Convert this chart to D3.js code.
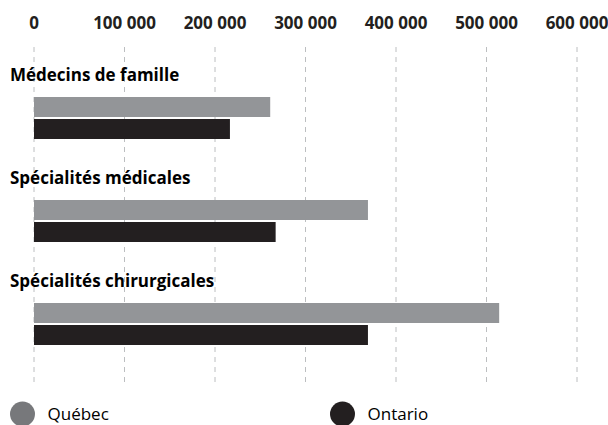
<!DOCTYPE html>
<html>
<head>
<meta charset="utf-8">
<script src="https://cdn.jsdelivr.net/npm/d3@7"></script>
<style>
  body { margin: 0; background: #fff; }
  svg { display: block; font-family: "Open Sans", "Noto Sans", sans-serif; }
  .tick-label { font-weight: 700; font-size: 17px; fill: #231f20; }
  .cat-label { font-weight: 700; font-size: 17px; fill: #000; }
  .legend-label { font-size: 17px; fill: #000; }
</style>
</head>
<body>
<div id="chart"></div>
<script>
// Médecins : rémunération moyenne, Québec vs Ontario
const categories = ["Médecins de famille", "Spécialités médicales", "Spécialités chirurgicales"];
const quebec = [261000, 369000, 514000];
const ontario = [216500, 267000, 369000];
const tickValues = [0, 100000, 200000, 300000, 400000, 500000, 600000];
const seriesNames = ["Québec", "Ontario"];
const colors = { "Québec": "#939598", "Ontario": "#231f20" };
const legendColors = { "Québec": "#77787b", "Ontario": "#231f20" };

const width = 608, height = 425;
const svg = d3.select("#chart").append("svg").attr("width", width).attr("height", height);

const x = d3.scaleLinear().domain([0, 600000]).range([34, 577]);
const fmt = v => d3.format(",")(v).replace(/,/g, " ");

// group positions
const groupY = d3.scalePoint().domain(categories).range([97, 303]);
const barH = 20, barGap = 2;

// grid
svg.append("g").selectAll("line")
    .data(tickValues)
    .join("line")
    .attr("x1", d => x(d)).attr("x2", d => x(d))
    .attr("y1", 47).attr("y2", 385)
    .attr("stroke", "#bcbec0")
    .attr("stroke-width", 1)
    .attr("stroke-dasharray", "5,5");

svg.append("g").selectAll("text")
    .data(tickValues)
    .join("text")
    .attr("class", "tick-label")
    .attr("x", d => x(d))
    .attr("y", 29)
    .attr("text-anchor", "middle")
    .text(d => d === 0 ? "0" : fmt(d));

// labels
svg.append("g").selectAll("text")
    .data(categories)
    .join("text")
    .attr("class", "cat-label")
    .attr("x", 10)
    .attr("y", d => groupY(d) - 16)
    .text(d => d);

const rows = categories.flatMap((c, i) => [
    { cat: c, series: "Québec", value: quebec[i], k: 0 },
    { cat: c, series: "Ontario", value: ontario[i], k: 1 }
]);

svg.append("g").selectAll("rect")
    .data(rows)
    .join("rect")
    .attr("x", x(0))
    .attr("y", d => groupY(d.cat) + d.k * (barH + barGap))
    .attr("width", d => x(d.value) - x(0))
    .attr("height", barH)
    .attr("fill", d => colors[d.series]);

// legend
const legendX = [22.5, 342.5];
const legend = svg.append("g").selectAll("g")
    .data(seriesNames)
    .join("g")
    .attr("transform", (d, i) => `translate(${legendX[i]},414)`);
legend.append("circle").attr("r", 12.5).attr("fill", d => legendColors[d]);
legend.append("text")
    .attr("class", "legend-label")
    .attr("x", 25)
    .attr("y", 6)
    .text(d => d);
</script>
</body>
</html>
